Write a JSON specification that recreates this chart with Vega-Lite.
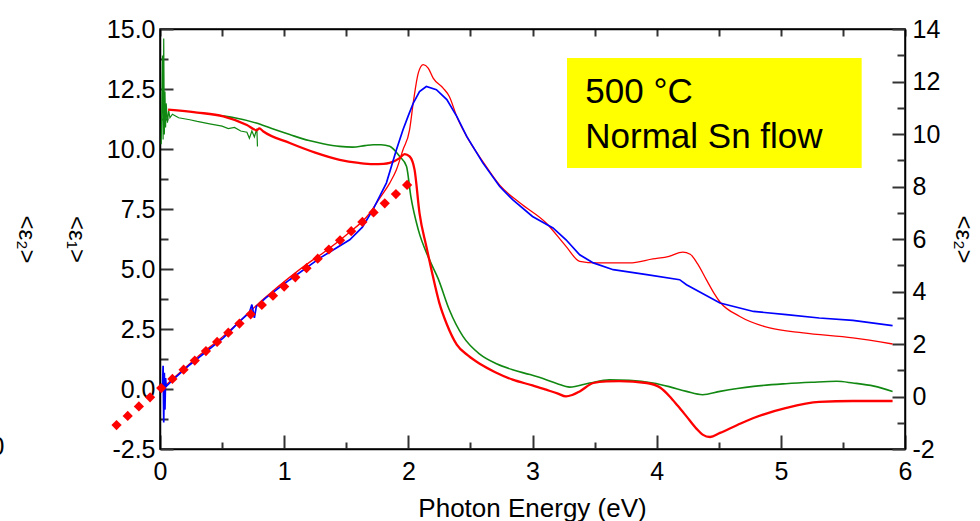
{
  "$schema": "https://vega.github.io/schema/vega-lite/v6.json",
  "width": 745,
  "height": 420,
  "autosize": "none",
  "padding": {"left": 160, "top": 29, "right": 75, "bottom": 72},
  "background": "white",
  "config": {
    "font": "Liberation Sans",
    "view": {"stroke": "black", "strokeWidth": 1.5},
    "axis": {"grid": false, "ticks": true, "labelColor": "black", "titleColor": "black", "labelFont": "Liberation Sans", "titleFont": "Liberation Sans", "titleFontWeight": "normal", "domainColor": "black", "domainWidth": 1.5, "tickColor": "#333", "tickWidth": 2, "tickOpacity": 1, "labelOverlap": false, "labelFlush": false, "labelBound": false, "zindex": 1}
  },
  "datasets": {
    "g0": [
      {"x":0.01,"y":10.2},{"x":0.02,"y":13.9},{"x":0.025,"y":10.4},{"x":0.03,"y":14.6},{"x":0.035,"y":10.6},{"x":0.04,"y":12.4},{"x":0.045,"y":10.9},{"x":0.05,"y":11.9},{"x":0.06,"y":11.1},{"x":0.07,"y":11.6},{"x":0.08,"y":11.3},{"x":0.1,"y":11.45},{"x":0.15,"y":11.3},{"x":0.24,"y":11.22},{"x":0.3,"y":11.15},{"x":0.4,"y":11.05},{"x":0.5,"y":10.95},{"x":0.55,"y":10.85},{"x":0.6,"y":10.9},{"x":0.65,"y":10.75},{"x":0.7,"y":10.7},{"x":0.72,"y":10.45},{"x":0.74,"y":10.75},{"x":0.76,"y":10.5},{"x":0.78,"y":10.85},{"x":0.785,"y":10.1}
    ],
    "g1": [
      {"x":0.5,"y":11.38},{"x":0.6,"y":11.3},{"x":0.776,"y":11.08},{"x":0.9,"y":10.85},{"x":1.045,"y":10.6},{"x":1.2,"y":10.35},{"x":1.313,"y":10.22},{"x":1.447,"y":10.11},{"x":1.55,"y":10.08},{"x":1.65,"y":10.14},{"x":1.716,"y":10.18},{"x":1.78,"y":10.18},{"x":1.85,"y":10.11},{"x":1.93,"y":9.69},{"x":1.985,"y":9.28},{"x":2.02,"y":8.03},{"x":2.08,"y":6.64},{"x":2.17,"y":5.39},{"x":2.24,"y":4.6},{"x":2.33,"y":3.3},{"x":2.44,"y":2.19},{"x":2.575,"y":1.45},{"x":2.71,"y":1.05},{"x":2.84,"y":0.8},{"x":2.98,"y":0.6},{"x":3.11,"y":0.39},{"x":3.2,"y":0.22},{"x":3.3,"y":0.08},{"x":3.46,"y":0.25},{"x":3.62,"y":0.38},{"x":3.78,"y":0.36},{"x":3.97,"y":0.25},{"x":4.1,"y":0.1},{"x":4.24,"y":-0.1},{"x":4.37,"y":-0.24},{"x":4.51,"y":-0.1},{"x":4.65,"y":0.02},{"x":4.78,"y":0.11},{"x":5.04,"y":0.22},{"x":5.25,"y":0.28},{"x":5.45,"y":0.32},{"x":5.58,"y":0.25},{"x":5.75,"y":0.12},{"x":5.9,"y":-0.1}
    ],
    "e1r": [
      {"x":0.065,"y":11.64},{"x":0.3,"y":11.52},{"x":0.51,"y":11.36},{"x":0.7,"y":11.0},{"x":0.78,"y":10.78},{"x":0.8,"y":10.86},{"x":0.83,"y":10.74},{"x":1.045,"y":10.25},{"x":1.25,"y":9.85},{"x":1.447,"y":9.55},{"x":1.6,"y":9.42},{"x":1.716,"y":9.37},{"x":1.8,"y":9.38},{"x":1.85,"y":9.42},{"x":1.93,"y":9.62},{"x":1.97,"y":9.79},{"x":2.01,"y":9.69},{"x":2.05,"y":9.14},{"x":2.09,"y":7.33},{"x":2.145,"y":5.94},{"x":2.186,"y":4.97},{"x":2.25,"y":3.58},{"x":2.31,"y":2.7},{"x":2.39,"y":1.85},{"x":2.48,"y":1.4},{"x":2.575,"y":1.05},{"x":2.7,"y":0.7},{"x":2.84,"y":0.39},{"x":3.0,"y":0.15},{"x":3.11,"y":-0.03},{"x":3.2,"y":-0.18},{"x":3.27,"y":-0.31},{"x":3.32,"y":-0.25},{"x":3.38,"y":-0.1},{"x":3.49,"y":0.25},{"x":3.595,"y":0.32},{"x":3.7,"y":0.33},{"x":3.92,"y":0.25},{"x":4.03,"y":0.05},{"x":4.105,"y":-0.31},{"x":4.17,"y":-0.7},{"x":4.24,"y":-1.14},{"x":4.32,"y":-1.65},{"x":4.37,"y":-1.9},{"x":4.43,"y":-2.0},{"x":4.51,"y":-1.83},{"x":4.65,"y":-1.5},{"x":4.78,"y":-1.21},{"x":5.045,"y":-0.79},{"x":5.31,"y":-0.54},{"x":5.58,"y":-0.5},{"x":5.9,"y":-0.5}
    ],
    "e2b": [
      {"x":0.02,"y":0.3},{"x":0.025,"y":1.17},{"x":0.03,"y":-0.99},{"x":0.035,"y":0.9},{"x":0.04,"y":-0.5},{"x":0.045,"y":0.7},{"x":0.05,"y":0.385},{"x":0.105,"y":0.64},{"x":0.24,"y":1.21},{"x":0.51,"y":2.23},{"x":0.65,"y":2.9},{"x":0.72,"y":3.2},{"x":0.74,"y":3.5},{"x":0.76,"y":3.0},{"x":0.776,"y":3.43},{"x":0.85,"y":3.75},{"x":1.045,"y":4.45},{"x":1.29,"y":5.28},{"x":1.528,"y":5.97},{"x":1.63,"y":6.45},{"x":1.715,"y":7.12},{"x":1.823,"y":8.13},{"x":1.904,"y":9.4},{"x":1.957,"y":10.16},{"x":2.0,"y":10.7},{"x":2.04,"y":11.18},{"x":2.09,"y":11.62},{"x":2.145,"y":11.81},{"x":2.226,"y":11.69},{"x":2.31,"y":11.31},{"x":2.39,"y":10.67},{"x":2.47,"y":9.91},{"x":2.6,"y":8.9},{"x":2.736,"y":8.0},{"x":2.84,"y":7.5},{"x":3.0,"y":6.86},{"x":3.165,"y":6.42},{"x":3.27,"y":5.97},{"x":3.38,"y":5.4},{"x":3.49,"y":5.09},{"x":3.65,"y":4.83},{"x":3.92,"y":4.64},{"x":4.185,"y":4.45},{"x":4.24,"y":4.26},{"x":4.51,"y":3.56},{"x":4.78,"y":3.24},{"x":5.045,"y":3.12},{"x":5.31,"y":2.99},{"x":5.58,"y":2.9},{"x":5.9,"y":2.7}
    ],
    "e2r": [
      {"x":0.05,"y":0.45},{"x":0.3,"y":1.5},{"x":0.51,"y":2.3},{"x":0.857,"y":3.81},{"x":1.2,"y":5.1},{"x":1.313,"y":5.47},{"x":1.5,"y":6.15},{"x":1.69,"y":6.99},{"x":1.77,"y":7.56},{"x":1.85,"y":8.13},{"x":1.904,"y":8.64},{"x":1.957,"y":9.4},{"x":2.01,"y":10.16},{"x":2.04,"y":11.2},{"x":2.08,"y":12.32},{"x":2.12,"y":12.64},{"x":2.16,"y":12.51},{"x":2.2,"y":12.13},{"x":2.28,"y":11.75},{"x":2.33,"y":11.43},{"x":2.39,"y":10.67},{"x":2.47,"y":9.91},{"x":2.6,"y":8.95},{"x":2.736,"y":8.05},{"x":2.9,"y":7.37},{"x":3.11,"y":6.61},{"x":3.27,"y":5.72},{"x":3.38,"y":5.15},{"x":3.515,"y":5.09},{"x":3.78,"y":5.09},{"x":3.97,"y":5.24},{"x":4.1,"y":5.34},{"x":4.21,"y":5.5},{"x":4.27,"y":5.42},{"x":4.33,"y":5.05},{"x":4.4,"y":4.45},{"x":4.46,"y":3.95},{"x":4.51,"y":3.6},{"x":4.67,"y":3.05},{"x":4.91,"y":2.61},{"x":5.18,"y":2.42},{"x":5.58,"y":2.23},{"x":5.9,"y":2.0}
    ],
    "fit": [
      {"x":-0.35,"y":-1.09},{"x":-0.26,"y":-0.74},{"x":-0.17,"y":-0.38},{"x":-0.08,"y":-0.03},{"x":0.01,"y":0.32},{"x":0.10,"y":0.67},{"x":0.19,"y":1.02},{"x":0.28,"y":1.37},{"x":0.37,"y":1.73},{"x":0.46,"y":2.08},{"x":0.55,"y":2.43},{"x":0.64,"y":2.78},{"x":0.73,"y":3.13},{"x":0.82,"y":3.49},{"x":0.91,"y":3.84},{"x":1.00,"y":4.19},{"x":1.09,"y":4.54},{"x":1.18,"y":4.89},{"x":1.27,"y":5.25},{"x":1.36,"y":5.60},{"x":1.45,"y":5.95},{"x":1.54,"y":6.30},{"x":1.63,"y":6.65},{"x":1.72,"y":7.01},{"x":1.81,"y":7.36},{"x":1.90,"y":7.71},{"x":1.99,"y":8.06}
    ],
    "box": [{"x":3.278,"x2":5.651,"y":9.21,"y2":13.79}],
    "lbl": [{"x":3.425,"y":11.92,"t":"500 °C"},{"x":3.425,"y":10.03,"t":"Normal Sn flow"}],
    "stray": [{"x":-1.31,"y":-2.4,"t":"0"}]
  },
  "layer": [
    {
      "encoding": {
        "x": {"field": "x", "type": "quantitative",
          "scale": {"domain": [0, 6], "nice": false, "zero": false},
          "axis": {"orient": "bottom",
            "values": [0,0.5,1,1.5,2,2.5,3,3.5,4,4.5,5,5.5,6],
            "labelExpr": "datum.value % 1 === 0 ? format(datum.value, 'd') : ''",
            "tickSize": {"condition": {"test": "datum.value % 1 === 0", "value": -14}, "value": -7},
            "labelPadding": 24, "labelFontSize": 25,
            "title": "Photon Energy (eV)", "titleFontSize": 26,
            "titleX": 372, "titleY": 59, "titleAlign": "center", "titleBaseline": "middle"}
        },
        "y": {"field": "y", "type": "quantitative",
          "scale": {"domain": [-2.5, 15], "nice": false, "zero": false},
          "axis": {"orient": "left",
            "values": [-2.5,-1.25,0,1.25,2.5,3.75,5,6.25,7.5,8.75,10,11.25,12.5,13.75,15],
            "labelExpr": "abs(datum.value/2.5 - round(datum.value/2.5)) < 0.01 ? (datum.value < 0 ? '-' : '') + format(abs(datum.value), '.1f') : ''",
            "tickSize": {"condition": {"test": "abs(datum.value/2.5 - round(datum.value/2.5)) < 0.01", "value": -13}, "value": -8},
            "labelPadding": 18, "labelFontSize": 25,
            "title": ["<ε₁>", "<ε₂>"], "titleFontSize": 24, "titleAngle": 90,
            "titleLineHeight": 50, "titleX": -85, "titleY": 210, "titleAlign": "center", "titleBaseline": "middle"}
        }
      },
      "layer": [
        {"data": {"name": "box"}, "mark": {"type": "rect", "color": "#ffff00"},
         "encoding": {"x2": {"field": "x2"}, "y2": {"field": "y2"}}},
        {"data": {"name": "lbl"}, "mark": {"type": "text", "align": "left", "baseline": "alphabetic", "fontSize": 35, "color": "black", "font": "Liberation Sans"},
         "encoding": {"text": {"field": "t"}}},
        {"data": {"name": "stray"}, "mark": {"type": "text", "align": "center", "baseline": "middle", "fontSize": 25, "color": "black", "font": "Liberation Sans"},
         "encoding": {"text": {"field": "t"}}},
        {"data": {"name": "g0"}, "mark": {"type": "line", "color": "#118811", "strokeWidth": 1.2}, "encoding": {}},
        {"data": {"name": "g1"}, "mark": {"type": "line", "color": "#118811", "strokeWidth": 1.6, "interpolate": "monotone"}, "encoding": {}},
        {"data": {"name": "e1r"}, "mark": {"type": "line", "color": "#ff0000", "strokeWidth": 2.3, "interpolate": "monotone"}, "encoding": {}}
      ]
    },
    {
      "encoding": {
        "x": {"field": "x", "type": "quantitative",
          "scale": {"domain": [0, 6], "nice": false, "zero": false},
          "axis": {"orient": "top",
            "values": [0,0.5,1,1.5,2,2.5,3,3.5,4,4.5,5,5.5,6],
            "labels": false, "title": null, "tickSize": -7}
        },
        "y": {"field": "y", "type": "quantitative",
          "scale": {"domain": [-2, 14], "nice": false, "zero": false},
          "axis": {"orient": "right",
            "values": [-2,-1,0,1,2,3,4,5,6,7,8,9,10,11,12,13,14],
            "labelExpr": "datum.value % 2 === 0 ? (datum.value < 0 ? '-' : '') + format(abs(datum.value), 'd') : ''",
            "tickSize": {"condition": {"test": "datum.value % 2 === 0", "value": -13}, "value": -8},
            "labelPadding": 20, "labelFontSize": 25,
            "title": "<ε₂>", "titleFontSize": 24, "titleAngle": 90,
            "titleX": 57, "titleY": 210, "titleAlign": "center", "titleBaseline": "middle"}
        }
      },
      "layer": [
        {"data": {"name": "e2r"}, "mark": {"type": "line", "color": "#ff0000", "strokeWidth": 1.3, "interpolate": "monotone"}, "encoding": {}},
        {"data": {"name": "e2b"}, "mark": {"type": "line", "color": "#0000ff", "strokeWidth": 1.7}, "encoding": {}},
        {"data": {"name": "fit"}, "mark": {"type": "point", "shape": "diamond", "filled": true, "size": 105, "color": "#ff0000", "opacity": 1}, "encoding": {}}
      ]
    }
  ],
  "resolve": {"scale": {"y": "independent"}, "axis": {"x": "independent"}}
}
